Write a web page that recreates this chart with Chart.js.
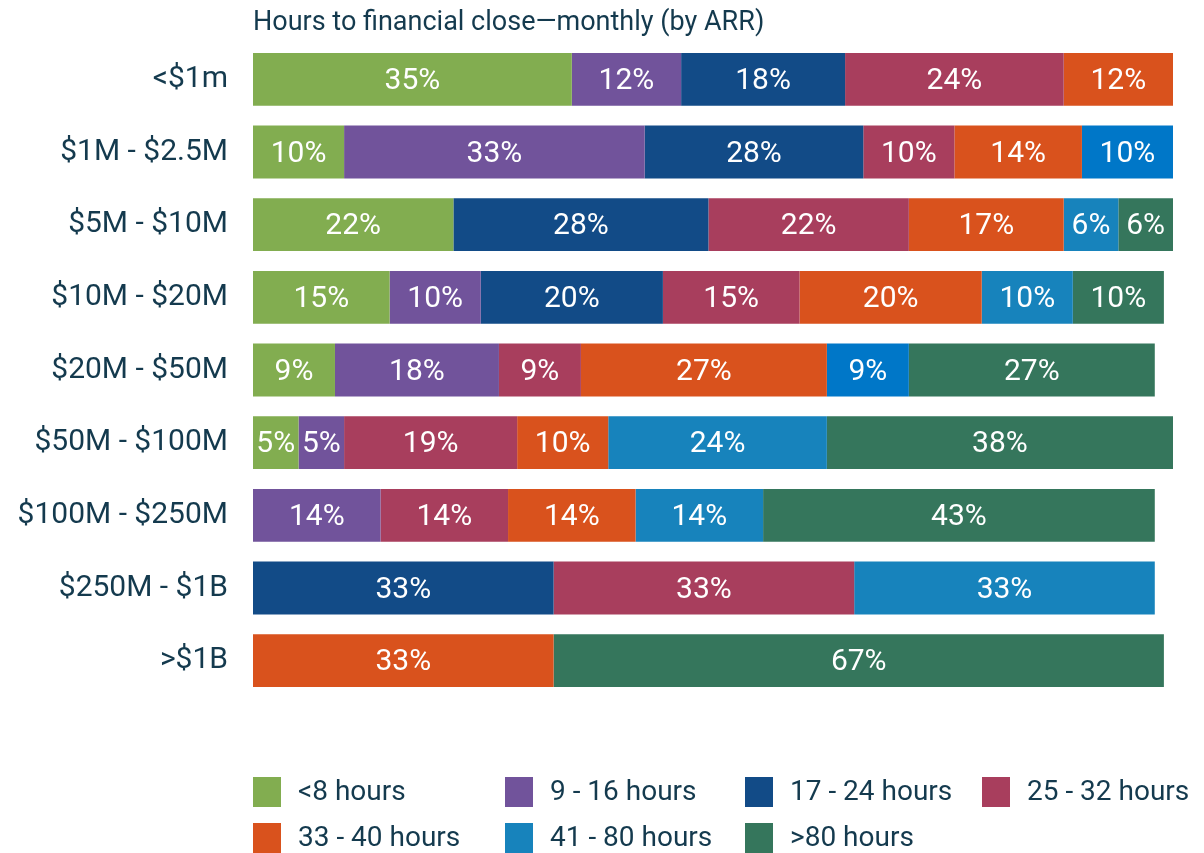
<!DOCTYPE html>
<html>
<head>
<meta charset="utf-8">
<script src="https://cdn.jsdelivr.net/npm/chart.js@4.4.1/dist/chart.umd.min.js"></script>
<style>
  html, body { margin: 0; padding: 0; background: #fff; }
  #wrap { width: 1204px; height: 853px; }
</style>
</head>
<body>
<div id="wrap"><canvas id="myChart" width="1204" height="853"></canvas></div>
<script>
// 매출 구간 (ARR)
const categories = ['<$1m', '$1M - $2.5M', '$5M - $10M', '$10M - $20M', '$20M - $50M',
                    '$50M - $100M', '$100M - $250M', '$250M - $1B', '>$1B'];

const seriesNames = ['<8 hours', '9 - 16 hours', '17 - 24 hours', '25 - 32 hours',
                     '33 - 40 hours', '41 - 80 hours', '>80 hours'];

// 막대 길이
const under8   = [35, 10, 22, 15,  9,  5, null, null, null];
const h9to16   = [12, 33, null, 10, 18,  5, 14, null, null];
const h17to24  = [18, 24, 28, 20, null, null, null, 33, null];
const h25to32  = [24, 10, 22, 15,  9, 19, 14, 33, null];
const h33to40  = [12, 14, 17, 20, 27, 10, 14, null, 33];
const h41to80  = [null, 10, 6, 10,  9, 24, 14, 33, null];
const over80   = [null, null, 6, 10, 27, 38, 43, null, 67];

// 막대 위에 표시되는 글자 (두번째 줄 17-24는 28%로 표기됨)
const labels17to24 = ['18%', '28%', '28%', '20%', '', '', '', '33%', ''];

const colors = ['#82ad50', '#71539b', '#124b87', '#a83e5d', '#d9521d', '#1783bc', '#35765c'];
const brightBlue = '#0077c8';

const textColor = '#143a4e';
const fontFamily = 'Roboto, "Open Sans", sans-serif';

const seriesValues = [under8, h9to16, h17to24, h25to32, h33to40, h41to80, over80];

const datasets = seriesValues.map((vals, i) => ({
  label: seriesNames[i],
  data: vals,
  backgroundColor: i === 5
    ? categories.map((c, j) => (j === 1 || j === 4) ? brightBlue : colors[5])
    : colors[i],
  borderWidth: 0,
  barPercentage: 0.726,
  categoryPercentage: 1.0
}));

// 막대 안 퍼센트 글자
const barLabels = {
  id: 'barLabels',
  afterDatasetsDraw(chart) {
    const { ctx } = chart;
    ctx.save();
    ctx.fillStyle = '#ffffff';
    ctx.font = '30px ' + fontFamily;
    ctx.textAlign = 'center';
    ctx.textBaseline = 'middle';
    chart.data.datasets.forEach((ds, i) => {
      const meta = chart.getDatasetMeta(i);
      meta.data.forEach((bar, j) => {
        const v = ds.data[j];
        if (v == null) return;
        const text = i === 2 ? labels17to24[j] : v + '%';
        const cx = (bar.x + bar.base) / 2;
        ctx.fillText(text, cx, bar.y + 2);
      });
    });
    ctx.restore();
  }
};

// 제목과 범례
const titleAndLegend = {
  id: 'titleAndLegend',
  afterDraw(chart) {
    const { ctx, chartArea } = chart;
    const left = chartArea.left;
    ctx.save();
    ctx.fillStyle = textColor;
    ctx.font = '27px ' + fontFamily;
    ctx.textAlign = 'left';
    ctx.textBaseline = 'middle';
    ctx.fillText('Hours to financial close\u2014monthly (by ARR)', left, 23);

    const cols = [0, 252, 492, 729];
    const rows = [792, 838];
    ctx.font = '28px ' + fontFamily;
    seriesNames.forEach((name, i) => {
      const x = left + cols[i % 4];
      const y = rows[Math.floor(i / 4)];
      ctx.fillStyle = colors[i];
      ctx.fillRect(x, y - 15, 28, 30);
      ctx.fillStyle = textColor;
      ctx.fillText(name, x + 45, y + 1);
    });
    ctx.restore();
  }
};

const ctx = document.getElementById('myChart');
new Chart(ctx, {
  type: 'bar',
  data: { labels: categories, datasets: datasets },
  options: {
    indexAxis: 'y',
    responsive: false,
    animation: false,
    layout: { padding: { top: 40, right: 31, bottom: 156, left: 0 } },
    scales: {
      x: {
        stacked: true,
        display: false,
        min: 0,
        max: 101
      },
      y: {
        stacked: true,
        grid: { display: false, drawTicks: false },
        border: { display: false },
        afterFit(axis) { axis.width = 253; },
        ticks: {
          color: textColor,
          padding: 25,
          font: { family: fontFamily, size: 30 }
        }
      }
    },
    plugins: {
      legend: { display: false },
      tooltip: { enabled: false }
    }
  },
  plugins: [barLabels, titleAndLegend]
});
</script>
</body>
</html>
